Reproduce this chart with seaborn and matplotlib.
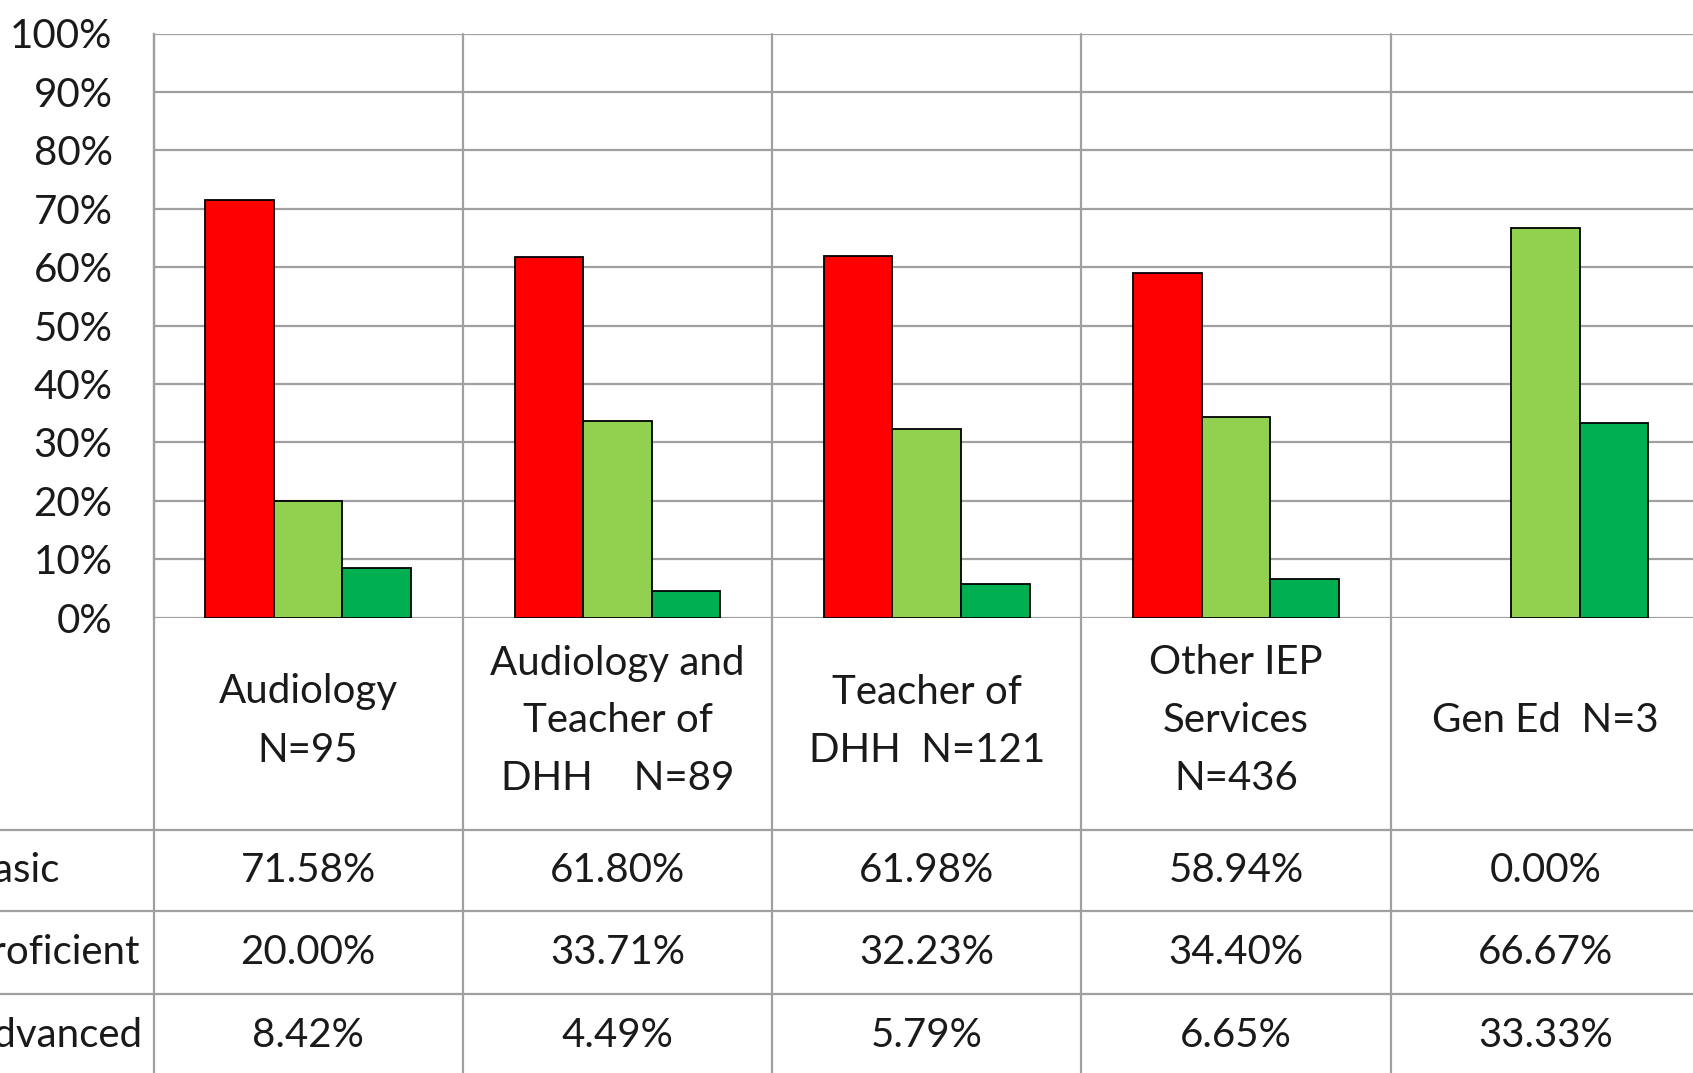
import seaborn as sns
import matplotlib.pyplot as plt
import pandas as pd
from matplotlib.lines import Line2D
from matplotlib.ticker import PercentFormatter
from matplotlib.transforms import blended_transform_factory

categories = ["Audiology\nN=95", "Audiology and\nTeacher of\nDHH    N=89",
              "Teacher of\nDHH  N=121", "Other IEP\nServices\nN=436", "Gen Ed  N=3"]
levels = ["Basic", "Proficient", "Advanced"]
basic = [71.58, 61.80, 61.98, 58.94, 0.00]
proficient = [20.00, 33.71, 32.23, 34.40, 66.67]
advanced = [8.42, 4.49, 5.79, 6.65, 33.33]
colors = ["#FF0000", "#92D050", "#00B050"]

rows = []
for lev, vals in zip(levels, [basic, proficient, advanced]):
    for c, v in zip(categories, vals):
        rows.append({"cat": c, "level": lev, "value": v})
df = pd.DataFrame(rows)

sns.set_style("white")
plt.rcParams['font.family'] = ['Lato', 'DejaVu Sans']
FS = 29
GRID = "#a0a0a0"
TXT = "#1a1a1a"
W, H = 1693, 1073

fig = plt.figure(figsize=(W / 100, H / 100), dpi=100)
top_px, base_px = 33.5, 617.6
ax = fig.add_axes([153.5 / W, 1 - base_px / H, 5 * 309.3 / W, (base_px - top_px) / H])

sns.barplot(data=df, x="cat", y="value", hue="level", order=categories, hue_order=levels,
            palette=colors, saturation=1, width=0.665, edgecolor="black", linewidth=1.3,
            legend=False, ax=ax)
# the 0.00% bar should not leave a black line on the baseline
for p in ax.patches:
    if p.get_height() == 0:
        p.set_linewidth(0)

ax.set_xlim(-0.5, 4.5)
ax.set_ylim(0, 100)
ax.set_yticks(range(0, 101, 10))
ax.yaxis.set_major_formatter(PercentFormatter(xmax=100, decimals=0))
ax.yaxis.grid(True, color=GRID, lw=1.6)
ax.set_axisbelow(True)
ax.set_xticks([])
ax.set_xlabel("")
ax.set_ylabel("")
for s in ["top", "right", "bottom"]:
    ax.spines[s].set_visible(False)
ax.spines["left"].set_color(GRID)
ax.spines["left"].set_linewidth(1.6)
ax.tick_params(axis="y", length=11.5, width=1.6, color=GRID, pad=18, labelsize=FS, labelcolor=TXT)

# data table below the plot
tr = blended_transform_factory(ax.transData, fig.transFigure)
def fy(px):
    return 1 - px / H

for i in range(6):
    x = i - 0.5
    ax.plot([x, x], [fy(top_px), fy(H + 5)], transform=tr, color=GRID, lw=1.6, clip_on=False, zorder=0)
for y in [830.3, 911.3, 994.4]:
    fig.add_artist(Line2D([0, 1], [fy(y), fy(y)], color=GRID, lw=1.6))

for i, c in enumerate(categories):
    ax.text(i, fy(721), c, transform=tr, ha="center", va="center", fontsize=FS,
            linespacing=1.7, color=TXT, clip_on=False)

row_y = [870.7, 952.8, 1035.5]
for lev, vals, y in zip(levels, [basic, proficient, advanced], row_y):
    fig.text(-0.0195, fy(y), lev, ha="left", va="center", fontsize=FS, color=TXT)
    for i, v in enumerate(vals):
        ax.text(i, fy(y), f"{v:.2f}%", transform=tr, ha="center", va="center",
                fontsize=FS, color=TXT, clip_on=False)

plt.savefig("out.png", dpi=100)
